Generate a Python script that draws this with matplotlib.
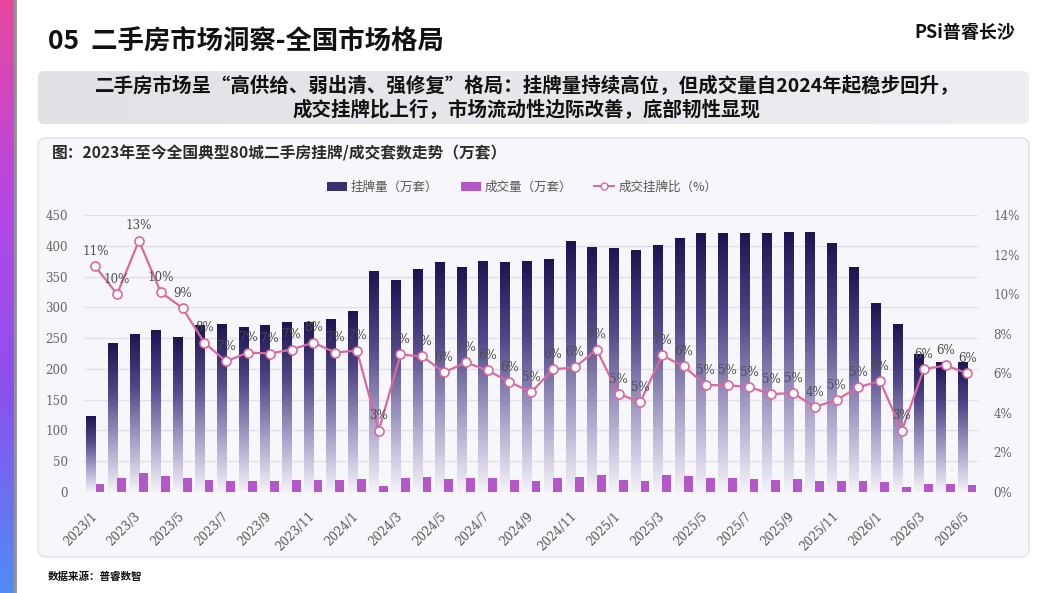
import numpy as np
import matplotlib
matplotlib.use("Agg")
import matplotlib.pyplot as plt
from matplotlib.colors import LinearSegmentedColormap
from matplotlib.patches import FancyBboxPatch, Patch
from matplotlib.lines import Line2D

plt.rcParams['font.family'] = ['Noto Sans CJK SC', 'DejaVu Sans']
NUM_FONT = 'DejaVu Serif'

# ---- data ----
years = [2023, 2024, 2025, 2026]
months = [f"{y}/{m}" for y in years for m in range(1, 13)][:41]

listing = [122, 241, 256, 262, 251, 270, 272, 268, 270, 275, 275, 280,
           293, 358, 344, 362, 373, 364, 375, 373, 375, 378, 407, 397,
           395, 393, 401, 412, 420, 420, 420, 420, 422, 422, 404, 364,
           306, 272, 223, 211, 211]
volume = [13, 23, 31, 26, 23, 20, 18, 18, 18, 20, 20, 20,
          21, 10, 23, 24, 21, 23, 23, 20, 18, 23, 24, 28,
          20, 18, 28, 26, 23, 23, 21, 20, 21, 18, 18, 18,
          16, 8, 13, 13, 11]
ratio = [11.4, 10.0, 12.7, 10.1, 9.3, 7.55, 6.6, 7.05, 7.0, 7.2, 7.55, 7.05,
         7.15, 3.1, 6.95, 6.85, 6.05, 6.55, 6.15, 5.55, 5.05, 6.2, 6.3, 7.2,
         4.95, 4.55, 6.9, 6.35, 5.4, 5.4, 5.3, 4.95, 5.0, 4.3, 4.65, 5.3,
         5.6, 3.1, 6.2, 6.4, 6.0]

left_ticks = list(range(0, 451, 50))
right_ticks = list(range(0, 15, 2))

NAVY = '#1d1552'
PURPLE = '#b457c9'
PINK = '#d76a9f'

W, H = 1055, 593
fig = plt.figure(figsize=(W / 100, H / 100), dpi=100)
fig.patch.set_facecolor('white')

# background layer in pixel coordinates
bg = fig.add_axes([0, 0, 1, 1])
bg.axis('off')

strip_cmap = LinearSegmentedColormap.from_list(
    'strip', ['#e8489e', '#b746e4', '#8a52ee', '#4f8cf4'])
bg.imshow(np.linspace(0, 1, 256).reshape(-1, 1), extent=(0, 14, H, 0),
          cmap=strip_cmap, aspect='auto')
bg.plot([15, 15], [0, H], color='#8d8b98', lw=2)

bg.text(48, 42, "05  二手房市场洞察-全国市场格局", fontsize=19,
        fontweight='bold', va='center', ha='left', color='#111111')
bg.text(1015, 33, "PSi普睿长沙", fontsize=13, fontweight='bold',
        style='italic', va='center', ha='right', color='#111111')

# subtitle box with a soft gradient
sub_box = FancyBboxPatch((38, 71), 991, 53,
                         boxstyle='round,pad=0,rounding_size=6',
                         fc='none', ec='none')
bg.add_patch(sub_box)
sub_cmap = LinearSegmentedColormap.from_list('sub', ['#e3e0e6', '#efedf1'])
im = bg.imshow(np.linspace(0, 1, 256).reshape(1, -1), extent=(38, 1029, 124, 71),
               cmap=sub_cmap, aspect='auto')
im.set_clip_path(sub_box)
bg.text(527, 86, "二手房市场呈“高供给、弱出清、强修复”格局：挂牌量持续高位，但成交量自2024年起稳步回升，",
        fontsize=14, fontweight='bold', ha='center', va='center', color='#111111')
bg.text(527, 110, "成交挂牌比上行，市场流动性边际改善，底部韧性显现",
        fontsize=14, fontweight='bold', ha='center', va='center', color='#111111')

# chart card
card = FancyBboxPatch((38, 138), 991, 419,
                      boxstyle='round,pad=0,rounding_size=8',
                      fc='#f7f6fa', ec='#e2e0e8', lw=1)
bg.add_patch(card)
bg.text(52, 153, "图：2023年至今全国典型80城二手房挂牌/成交套数走势（万套）",
        fontsize=11.3, fontweight='bold', va='center', ha='left', color='#2b2b2b')
bg.text(48, 577, "数据来源：普睿数智", fontsize=7.6, fontweight='bold',
        va='center', ha='left', color='#111111')

bg.set_xlim(0, W)
bg.set_ylim(H, 0)

# ---- main chart ----
ax = fig.add_axes([84.4 / W, 101 / H, 893.8 / W, 277 / H])
ax.patch.set_alpha(0)
ax2 = ax.twinx()

x = np.arange(len(months))

navy_cmap = LinearSegmentedColormap.from_list(
    'navy', ['#f4f2f9', '#a59dc6', '#514789', NAVY])
grad = np.linspace(0, 1, 256).reshape(-1, 1)
bars = ax.bar(x - 0.215, listing, width=0.43, color='none', zorder=2)
for r in bars:
    ax.imshow(grad, extent=(r.get_x(), r.get_x() + r.get_width(), 0, r.get_height()),
              origin='lower', cmap=navy_cmap, aspect='auto', zorder=2)
ax.bar(x + 0.215, volume, width=0.40, color=PURPLE, zorder=3)

ax.set_xlim(-0.5, len(months) - 0.5)
ax.set_ylim(0, 450)
ax.set_yticks(left_ticks, labels=[str(v) for v in left_ticks],
              fontfamily=NUM_FONT, fontsize=8.6, color='#666666')
ax.set_xticks(x[::2], labels=months[::2], rotation=45, ha='right', va='center',
              rotation_mode='anchor', fontfamily=NUM_FONT, fontsize=8.6,
              color='#555555')
ax.tick_params(axis='x', length=0, pad=16)
ax.tick_params(axis='y', length=0, pad=12)
ax.grid(axis='y', color='#e1dfe7', lw=1)
ax.set_axisbelow(True)
for s in ax.spines.values():
    s.set_visible(False)

ax2.plot(x, ratio, color=PINK, lw=1.6, marker='o', ms=6.5, mfc='white',
         mec=PINK, mew=1.2, zorder=4)
for xi, v in zip(x, ratio):
    ax2.annotate(f"{v:.0f}%", (xi, v), xytext=(0, 6), textcoords='offset points',
                 ha='center', va='bottom', fontsize=8.6, fontfamily=NUM_FONT,
                 color='#4d4d4d', zorder=5)
ax2.set_ylim(0, 14)
ax2.set_yticks(right_ticks, labels=[f"{v}%" for v in right_ticks],
               fontfamily=NUM_FONT, fontsize=8.6, color='#666666')
ax2.tick_params(axis='y', length=0, pad=11)
for s in ax2.spines.values():
    s.set_visible(False)

handles = [Patch(facecolor='#3a3070', edgecolor='none'),
           Patch(facecolor=PURPLE, edgecolor='none'),
           Line2D([], [], color=PINK, lw=1.4, marker='o', ms=5, mfc='white', mec=PINK)]
labels = ["挂牌量（万套）", "成交量（万套）", "成交挂牌比（%）"]
fig.legend(handles, labels, loc='center', bbox_to_anchor=(522 / W, 1 - 187 / H),
           ncol=3, frameon=False, fontsize=9, handlelength=1.6,
           handletextpad=0.3, columnspacing=1.8, labelcolor='#555555')

fig.savefig('out.png', dpi=100)
